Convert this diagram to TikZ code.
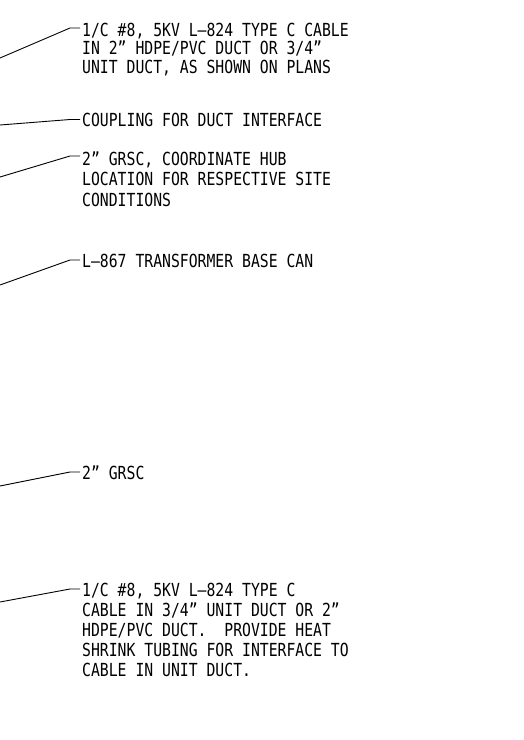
\documentclass[tikz,border=0pt]{standalone}
\usepackage{fontspec}
\setmainfont{DejaVu Sans Mono}[FakeStretch=0.82]
\begin{document}
\begin{tikzpicture}[x=1pt,y=-1pt,
  note/.style={anchor=north west,inner sep=0pt,align=left,
    font=\fontsize{18pt}{18.6pt}\selectfont},
  leader/.style={draw=black,line width=0.9pt}]
\useasboundingbox (0,0) rectangle (523,740);
% text blocks
\node[note] (t1) at (82,22.5) {1/C \#8, 5KV L--824 TYPE C CABLE\\IN 2” HDPE/PVC DUCT OR 3/4”\\UNIT DUCT, AS SHOWN ON PLANS};
\node[note] (t2) at (82,113) {COUPLING FOR DUCT INTERFACE};
\node[note,font=\fontsize{18pt}{20.5pt}\selectfont] (t3) at (82,151.5) {2” GRSC, COORDINATE HUB\\LOCATION FOR RESPECTIVE SITE\\CONDITIONS};
\node[note] (t4) at (82,253.5) {L--867 TRANSFORMER BASE CAN};
\node[note] (t5) at (82,465.5) {2” GRSC};
\node[note,font=\fontsize{18pt}{20pt}\selectfont] (t6) at (82,582.5) {1/C \#8, 5KV L--824 TYPE C\\CABLE IN 3/4” UNIT DUCT OR 2”\\HDPE/PVC DUCT.\ \ PROVIDE HEAT\\SHRINK TUBING FOR INTERFACE TO\\CABLE IN UNIT DUCT.};
% leader coordinates
\coordinate (s1) at (0,58);  \coordinate (k1) at (70,28);  \coordinate (e1) at (80,28);
\coordinate (s2) at (0,125); \coordinate (k2) at (70,119.5); \coordinate (e2) at (80,119.5);
\coordinate (s3) at (0,177); \coordinate (k3) at (70,156); \coordinate (e3) at (80,156);
\coordinate (s4) at (0,285); \coordinate (k4) at (70,260); \coordinate (e4) at (80,260);
\coordinate (s5) at (0,486); \coordinate (k5) at (70,472); \coordinate (e5) at (80,472);
\coordinate (s6) at (0,602); \coordinate (k6) at (70,589); \coordinate (e6) at (80,589);
\foreach \i in {1,...,6} {\draw[leader] (s\i) -- (k\i) -- (e\i);}
\end{tikzpicture}
\end{document}
